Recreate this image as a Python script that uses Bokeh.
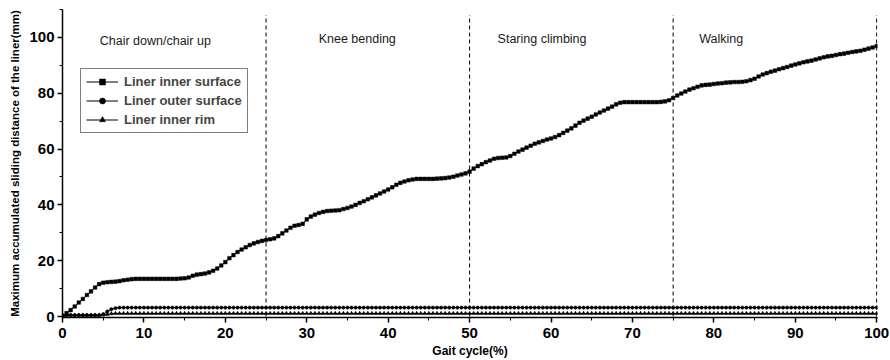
from bokeh.plotting import figure
from bokeh.models import Range1d, SingleIntervalTicker, Legend, LegendItem
from bokeh.core.properties import value
from bokeh.embed import file_html
from bokeh.resources import INLINE

# ---- data ----
STEP = 0.5
inner_surface = [
    0.0, 1.2, 2.3, 3.6, 5.0, 6.3, 7.7, 9.0, 10.4, 11.6,
    12.1, 12.3, 12.4, 12.5, 12.7, 13.0, 13.2, 13.4, 13.5, 13.5,
    13.5, 13.5, 13.5, 13.5, 13.5, 13.5, 13.5, 13.5, 13.5, 13.6,
    13.7, 14.0, 14.6, 15.0, 15.2, 15.4, 15.8, 16.4, 17.2, 18.3,
    19.5, 20.9, 22.0, 23.1, 24.0, 24.8, 25.6, 26.2, 26.7, 27.1,
    27.4, 27.7, 28.0, 28.8, 29.8, 30.8, 31.8, 32.5, 32.8, 33.2,
    34.8, 35.8, 36.5, 37.1, 37.5, 37.8, 37.9, 38.0, 38.1, 38.5,
    38.9, 39.4, 40.0, 40.7, 41.3, 42.0, 42.7, 43.4, 44.1, 44.8,
    45.5, 46.3, 47.2, 47.9, 48.4, 48.8, 49.1, 49.3, 49.3, 49.3,
    49.3, 49.3, 49.4, 49.5, 49.6, 49.8, 50.1, 50.5, 50.9, 51.3,
    51.9, 53.0, 53.9, 54.6, 55.3, 55.9, 56.5, 56.8, 56.9, 57.0,
    57.5, 58.3, 59.1, 59.8, 60.5, 61.2, 61.9, 62.4, 62.9, 63.4,
    63.8, 64.3, 65.0, 65.8, 66.6, 67.4, 68.4, 69.4, 70.2, 70.9,
    71.6, 72.4, 73.1, 73.8, 74.5, 75.2, 76.0, 76.6, 76.8, 76.8,
    76.8, 76.8, 76.8, 76.8, 76.8, 76.8, 76.8, 76.9, 77.1, 77.5,
    78.3, 79.2, 79.9, 80.6, 81.3, 81.8, 82.3, 82.8, 83.0, 83.1,
    83.3, 83.5, 83.6, 83.8, 83.9, 84.0, 84.0, 84.1, 84.3, 84.7,
    85.2, 86.0, 86.7, 87.2, 87.7, 88.1, 88.6, 89.0, 89.4, 89.9,
    90.3, 90.7, 91.1, 91.4, 91.7, 92.1, 92.5, 92.9, 93.2, 93.4,
    93.7, 94.0, 94.2, 94.5, 94.8, 95.0, 95.2, 95.6, 96.0, 96.4,
    96.9,
]
outer_surface = [0.5] * 10 + [0.8, 1.8, 2.6, 3.0] + [3.2] * 187
inner_rim = [0.5] * 10 + [0.6, 0.8, 1.0, 1.1] + [1.1] * 187
gait = [i * STEP for i in range(len(inner_surface))]

series_names = ["Liner inner surface", "Liner outer surface", "Liner inner rim"]

phase_bounds = [25, 50, 75, 100]
phase_labels = ["Chair down/chair up", "Knee bending", "Staring climbing", "Walking"]
phase_label_x = [11.4, 36.2, 58.9, 80.9]
phase_label_y = [98.6, 99.3, 99.3, 99.3]

x_ticks_interval = 10
y_ticks_interval = 20

# ---- figure ----
FONT = "Liberation Sans"
p = figure(width=890, height=360, output_backend="svg", toolbar_location=None,
           x_range=Range1d(0, 100.1), y_range=Range1d(-0.35, 110),
           min_border_left=62, min_border_right=13, min_border_top=9,
           min_border_bottom=40)
p.background_fill_color = "white"
p.border_fill_color = "white"
p.outline_line_color = None
p.xgrid.visible = False
p.ygrid.visible = False

# phase dividers
p.segment(x0=phase_bounds, y0=[0] * 4, x1=phase_bounds, y1=[108] * 4,
          line_color="black", line_width=1, line_dash="4 3")

# series
r1l = p.line(gait, inner_surface, line_color="black", line_width=1)
r1m = p.scatter(gait, inner_surface, marker="square", size=3.6,
                fill_color="black", line_color="black", line_width=0.5)
r2l = p.line(gait, outer_surface, line_color="black", line_width=1)
r2m = p.scatter(gait, outer_surface, marker="circle", size=3.4,
                fill_color="black", line_color="black", line_width=0.5)
r3l = p.line(gait, inner_rim, line_color="black", line_width=1)
r3m = p.scatter(gait, inner_rim, marker="triangle", size=3.8,
                fill_color="black", line_color="black", line_width=0.5)

# phase labels
p.text(x=phase_label_x, y=phase_label_y, text=phase_labels,
       text_font=value(FONT), text_font_size="12.5px",
       text_color="#1a1a1a", text_align="center", text_baseline="middle")

# axes
p.xaxis.ticker = SingleIntervalTicker(interval=x_ticks_interval, num_minor_ticks=2)
p.yaxis.ticker = SingleIntervalTicker(interval=y_ticks_interval, num_minor_ticks=2)
for ax in (p.xaxis[0], p.yaxis[0]):
    ax.axis_line_color = "black"
    ax.axis_line_width = 1.5
    ax.major_tick_line_color = "black"
    ax.major_tick_line_width = 1.5
    ax.minor_tick_line_color = "black"
    ax.major_tick_out = 5
    ax.major_tick_in = 0
    ax.minor_tick_out = 3
    ax.minor_tick_in = 0
    ax.major_label_text_font = FONT
    ax.major_label_text_font_style = "bold"
    ax.major_label_text_font_size = "15px"
    ax.major_label_text_color = "black"
    ax.axis_label_text_font = FONT
    ax.axis_label_text_font_style = "bold"
    ax.axis_label_text_color = "black"
p.xaxis.axis_label = "Gait cycle(%)"
p.yaxis.axis_label = "Maximum accumulated sliding distance of the liner(mm)"
p.xaxis.axis_label_text_font_size = "12px"
p.yaxis.axis_label_text_font_size = "11.5px"
p.xaxis.major_label_standoff = 5
p.yaxis.major_label_standoff = 3
p.xaxis.axis_label_standoff = 3
p.yaxis.axis_label_standoff = 5

legend = Legend(items=[
    LegendItem(label=series_names[0], renderers=[r1l, r1m]),
    LegendItem(label=series_names[1], renderers=[r2l, r2m]),
    LegendItem(label=series_names[2], renderers=[r3l, r3m]),
], location=(18, 184))
legend.border_line_color = "black"
legend.border_line_width = 1
legend.background_fill_color = "white"
legend.label_text_font = FONT
legend.label_text_font_style = "bold"
legend.label_text_font_size = "13px"
legend.label_height = 15
legend.glyph_height = 15
legend.glyph_width = 32
legend.spacing = 4
legend.padding = 5
legend.margin = 0
legend.label_standoff = 6
p.add_layout(legend, "center")

open("out.html", "w").write(file_html(p, INLINE))
